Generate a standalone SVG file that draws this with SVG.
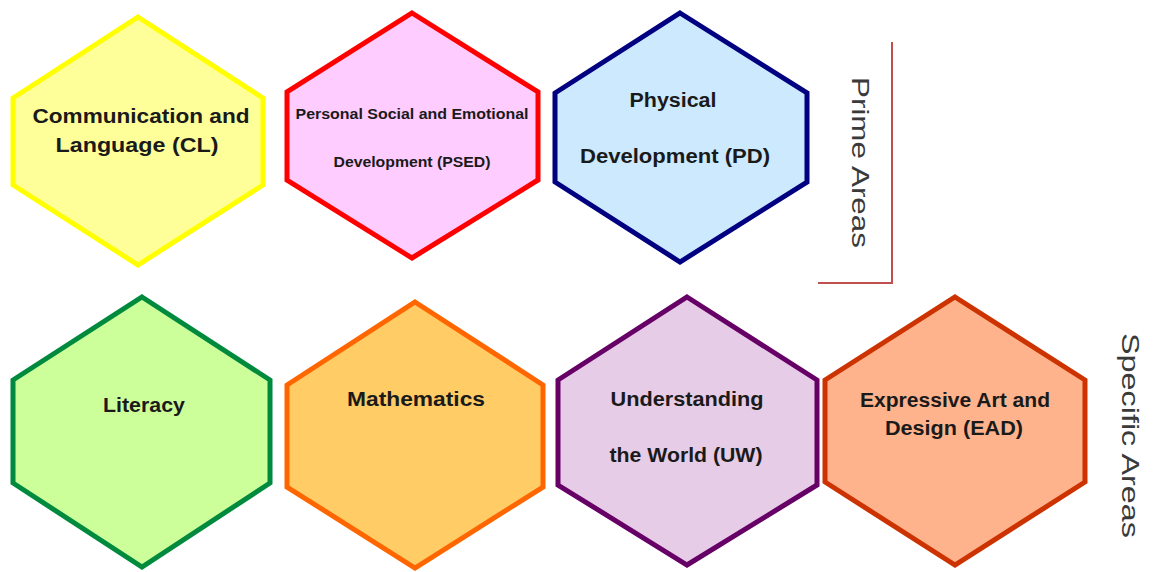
<svg xmlns="http://www.w3.org/2000/svg" width="1164" height="572" viewBox="0 0 1164 572">
  <style>
    .hex { stroke-width: 5; stroke-linejoin: miter; }
    .lbl { font-family: "Liberation Sans", Arial, sans-serif; font-weight: bold; fill: #1a1a1a; text-anchor: middle; }
    .area { font-family: "Liberation Sans", Arial, sans-serif; font-size: 24px; fill: #3a3a3a; text-anchor: middle; }
    .bracket { fill: none; stroke: #c0504d; stroke-width: 2; }
  </style>
  <rect width="1164" height="572" fill="#ffffff"/>

  <!-- Prime areas: top row -->
  <g id="cl">
    <polygon class="hex" points="138,17 263,98 263,185 138,265 13,185 13,98" fill="#ffff99" stroke="#ffff00"/>
    <text class="lbl" font-size="20" x="141" y="123" textLength="217" lengthAdjust="spacingAndGlyphs">Communication and</text>
    <text class="lbl" font-size="20" x="137" y="152" textLength="163" lengthAdjust="spacingAndGlyphs">Language (CL)</text>
  </g>
  <g id="psed">
    <polygon class="hex" points="412,13 538,92 538,180 412,258 287,180 287,92" fill="#ffccff" stroke="#ff0000"/>
    <text class="lbl" font-size="14" x="412" y="119" textLength="233" lengthAdjust="spacingAndGlyphs">Personal Social and Emotional</text>
    <text class="lbl" font-size="14" x="412" y="167" textLength="157" lengthAdjust="spacingAndGlyphs">Development (PSED)</text>
  </g>
  <g id="pd">
    <polygon class="hex" points="680,13 807,93 807,182 680,262 555,182 555,93" fill="#cce9fd" stroke="#000080"/>
    <text class="lbl" font-size="20" x="673" y="107" textLength="87" lengthAdjust="spacingAndGlyphs">Physical</text>
    <text class="lbl" font-size="20" x="675" y="163" textLength="190" lengthAdjust="spacingAndGlyphs">Development (PD)</text>
  </g>

  <!-- Specific areas: bottom row -->
  <g id="literacy">
    <polygon class="hex" points="142,297 270,380 270,483 142,567 13,483 13,380" fill="#ccff99" stroke="#008a3e"/>
    <text class="lbl" font-size="20" x="144" y="412" textLength="82" lengthAdjust="spacingAndGlyphs">Literacy</text>
  </g>
  <g id="maths">
    <polygon class="hex" points="415,302 543,385 543,487 415,568 287,487 287,385" fill="#ffcc66" stroke="#ff6600"/>
    <text class="lbl" font-size="20" x="416" y="406" textLength="138" lengthAdjust="spacingAndGlyphs">Mathematics</text>
  </g>
  <g id="uw">
    <polygon class="hex" points="687,297 817,380 817,485 687,565 558,485 558,380" fill="#e6cce6" stroke="#660066"/>
    <text class="lbl" font-size="20" x="687" y="406" textLength="153" lengthAdjust="spacingAndGlyphs">Understanding</text>
    <text class="lbl" font-size="20" x="686" y="462" textLength="153" lengthAdjust="spacingAndGlyphs">the World (UW)</text>
  </g>
  <g id="ead">
    <polygon class="hex" points="955,297 1085,380 1085,482 955,565 825,482 825,380" fill="#ffb38c" stroke="#cc3300"/>
    <text class="lbl" font-size="20" x="955" y="407" textLength="190" lengthAdjust="spacingAndGlyphs">Expressive Art and</text>
    <text class="lbl" font-size="20" x="954" y="435" textLength="138" lengthAdjust="spacingAndGlyphs">Design (EAD)</text>
  </g>

  <!-- Group labels -->
  <g id="connectors">
    <polyline class="bracket" points="892,42 892,283 818,283"/>
  </g>
  <g id="prime-areas">
    <text class="area" transform="translate(852,162.5) rotate(90)" x="0" y="0" textLength="171" lengthAdjust="spacingAndGlyphs">Prime Areas</text>
  </g>
  <g id="specific-areas">
    <text class="area" transform="translate(1122,435.5) rotate(90)" x="0" y="0" textLength="205" lengthAdjust="spacingAndGlyphs">Specific Areas</text>
  </g>
</svg>
